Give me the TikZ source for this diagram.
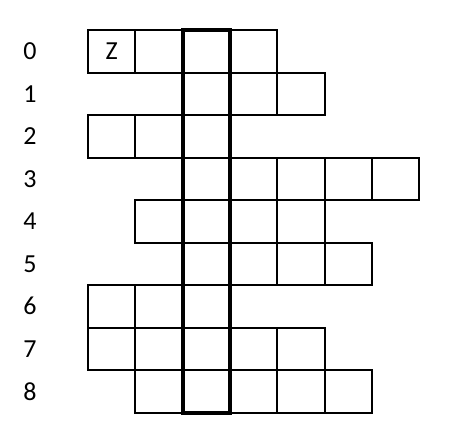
\documentclass[tikz,border=0pt]{standalone}
\usepackage{fontspec}
\setmainfont{Carlito}
\begin{document}
\begin{tikzpicture}[x=47.33pt, y=-42.5pt,
        cell/.style={line width=2pt},
        rowlabel/.style={font=\fontsize{26}{30}\selectfont, anchor=center}]
            % the frame
            \useasboundingbox (-1.859, -0.706) rectangle (7.754, 9.765);
            % the cells: row/first/last
            \foreach \r/\a/\b in {0/0/3, 1/2/4, 2/0/2, 3/2/6, 4/1/4, 5/2/5, 6/0/2, 7/0/4, 8/1/5} {
                \foreach \c in {\a,...,\b} {
                    \draw[cell] (\c, \r) rectangle ({\c+1}, {\r+1});
                };
                \node[rowlabel] (row\r) at (-1.225, {\r+0.5}) {\r};
            };
            % the solution column
            \draw[line width=4pt] (2, 0) rectangle (3, 9);
            % the given letter
            \node[rowlabel] (letterZ) at (0.5, 0.5) {Z};
        \end{tikzpicture}
\end{document}
